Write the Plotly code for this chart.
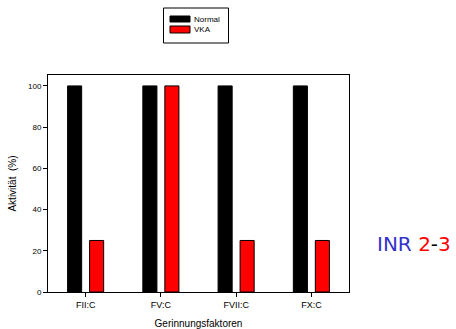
import plotly.graph_objects as go

categories = ["FII:C", "FV:C", "FVII:C", "FX:C"]
series_names = ["Normal", "VKA"]
normal = [100, 100, 100, 100]
vka = [25, 100, 25, 25]
yticks = [0, 20, 40, 60, 80, 100]
colors = ["black", "#ff0000"]

W, H = 456, 329
L, R, T, B = 48, 107, 75, 37
PW, PH = W - L - R, H - T - B


def px(x):
    return (x - L) / PW


def py(y):
    return (H - B - y) / PH


fig = go.Figure()
for name, vals, col in zip(series_names, [normal, vka], colors):
    fig.add_trace(go.Bar(name=name, x=categories, y=vals,
                         marker=dict(color=col, line=dict(color="black", width=1))))

fig.update_layout(
    width=W, height=H,
    margin=dict(l=L, r=R, t=T, b=B),
    paper_bgcolor="white", plot_bgcolor="white",
    barmode="group", bargap=0.415, bargroupgap=0.36,
    font=dict(family="Liberation Sans, Arial, sans-serif", size=8, color="black"),
    showlegend=False,
)
fig.update_xaxes(
    automargin=False,
    showline=True, linecolor="black", linewidth=1, mirror=True,
    ticks="outside", ticklen=4, tickcolor="black", showgrid=False,
    tickfont=dict(size=9, color="black"),
    range=[-0.5, 3.5],
    title=dict(text="Gerinnungsfaktoren", font=dict(size=10, color="black")),
)
fig.update_yaxes(
    automargin=True,
    showline=True, linecolor="black", linewidth=1, mirror=True,
    ticks="outside", ticklen=4, tickcolor="black",
    tickfont=dict(size=8, color="black"),
    range=[0, 105.3], tickvals=yticks, showgrid=False, zeroline=False,
    title=dict(text="Aktivität  (%)", font=dict(size=10, color="black"), standoff=9),
)

# custom legend (compact box like the reference)
fig.add_shape(type="rect", xref="paper", yref="paper",
              x0=px(163.5), x1=px(228.5), y0=py(43), y1=py(8),
              line=dict(color="black", width=1), fillcolor="white")
sw_y = [(16, 22), (26, 33)]
for name, col, (ya, yb) in zip(series_names, colors, sw_y):
    fig.add_shape(type="rect", xref="paper", yref="paper",
                  x0=px(170), x1=px(190), y0=py(yb), y1=py(ya),
                  line=dict(color="black", width=1), fillcolor=col)
    fig.add_annotation(xref="paper", yref="paper", x=px(192), y=py((ya + yb) / 2),
                       xanchor="left", yanchor="middle", text=name,
                       showarrow=False, font=dict(size=8, color="black"))

fig.add_annotation(
    xref="paper", yref="paper", x=px(375), y=py(244), xanchor="left", yanchor="middle",
    text="<span style='color:#3333cc'>INR </span><span style='color:#ff0000'>2</span>"
         "<span style='color:black'>-</span><span style='color:#ff0000'>3</span>",
    showarrow=False, font=dict(size=20, family="DejaVu Sans, Verdana, sans-serif"),
)
fig.write_html("out.html", post_script="document.body.style.margin='0';",
               config={"displayModeBar": False})
